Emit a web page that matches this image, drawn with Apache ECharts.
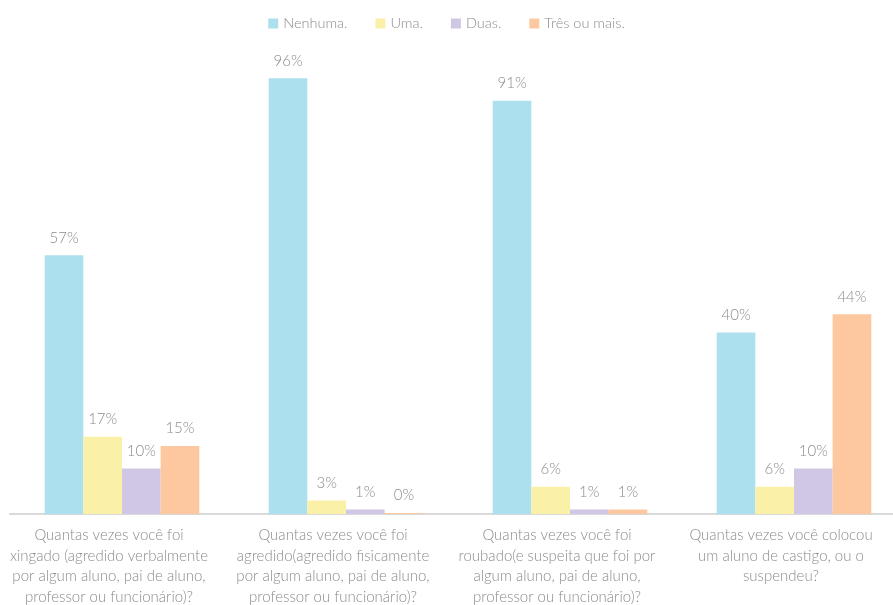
<!DOCTYPE html>
<html>
<head>
<meta charset="utf-8">
<script src="https://cdn.jsdelivr.net/npm/echarts@6/dist/echarts.min.js"></script>
<style>
  html, body { margin: 0; padding: 0; background: #fff; }
  #chart { width: 893px; height: 605px; }
</style>
</head>
<body>
<div id="chart"></div>
<script>
// Survey questions (x-axis categories)
const categories = [
  'Quantas vezes você foi\nxingado (agredido verbalmente\npor algum aluno, pai de aluno,\nprofessor ou funcionário)?',
  'Quantas vezes você foi\nagredido(agredido fisicamente\npor algum aluno, pai de aluno,\nprofessor ou funcionário)?',
  'Quantas vezes você foi\nroubado(e suspeita que foi por\nalgum aluno, pai de aluno,\nprofessor ou funcionário)?',
  'Quantas vezes você colocou\num aluno de castigo, ou o\nsuspendeu?'
];

// Answer shares, in percent
const nenhuma = [57, 96, 91, 40];
const uma = [17, 3, 6, 6];
const duas = [10, 1, 1, 10];
const tresOuMais = [15, 0, 1, 44];

const seriesNames = ['Nenhuma.', 'Uma.', 'Duas.', 'Três ou mais.'];
const seriesData = [nenhuma, uma, duas, tresOuMais];
const colors = ['#ADE0EF', '#FBF0A7', '#CFC7E3', '#FDC89F'];

const font = 'Lato, "Open Sans", sans-serif';

const chart = echarts.init(document.getElementById('chart'), null, { renderer: 'canvas' });

chart.setOption({
  animation: false,
  color: colors,
  legend: {
    top: 11,
    left: 'center',
    itemWidth: 10,
    itemHeight: 10,
    itemGap: 28,
    icon: 'rect',
    textStyle: { color: '#8c8c8c', fontSize: 14.5, fontFamily: font, fontWeight: 300 },
    data: seriesNames
  },
  grid: { left: 10, right: -13, top: 60, bottom: 91, containLabel: false, outerBoundsMode: 'none' },
  xAxis: {
    type: 'category',
    data: categories,
    axisLine: { lineStyle: { color: '#d9d9d9', width: 2 } },
    axisTick: { show: false },
    axisLabel: {
      interval: 0,
      color: '#8c8c8c',
      fontSize: 15,
      fontFamily: font,
      fontWeight: 300,
      lineHeight: 20.5,
      margin: 11,
      padding: [0, 26, 0, 0]
    }
  },
  yAxis: {
    type: 'value',
    min: 0,
    max: 100,
    show: false,
    splitLine: { show: false }
  },
  series: seriesData.map((d, i) => ({
    name: seriesNames[i],
    type: 'bar',
    data: d,
    barGap: '0%',
    barCategoryGap: '31%',
    barMinHeight: 1,
    itemStyle: { color: colors[i] },
    label: {
      show: true,
      position: 'top',
      distance: 10,
      formatter: p => p.value + '%',
      color: '#8c8c8c',
      fontSize: 15,
      fontFamily: font,
      fontWeight: 300
    }
  }))
});
</script>
</body>
</html>
